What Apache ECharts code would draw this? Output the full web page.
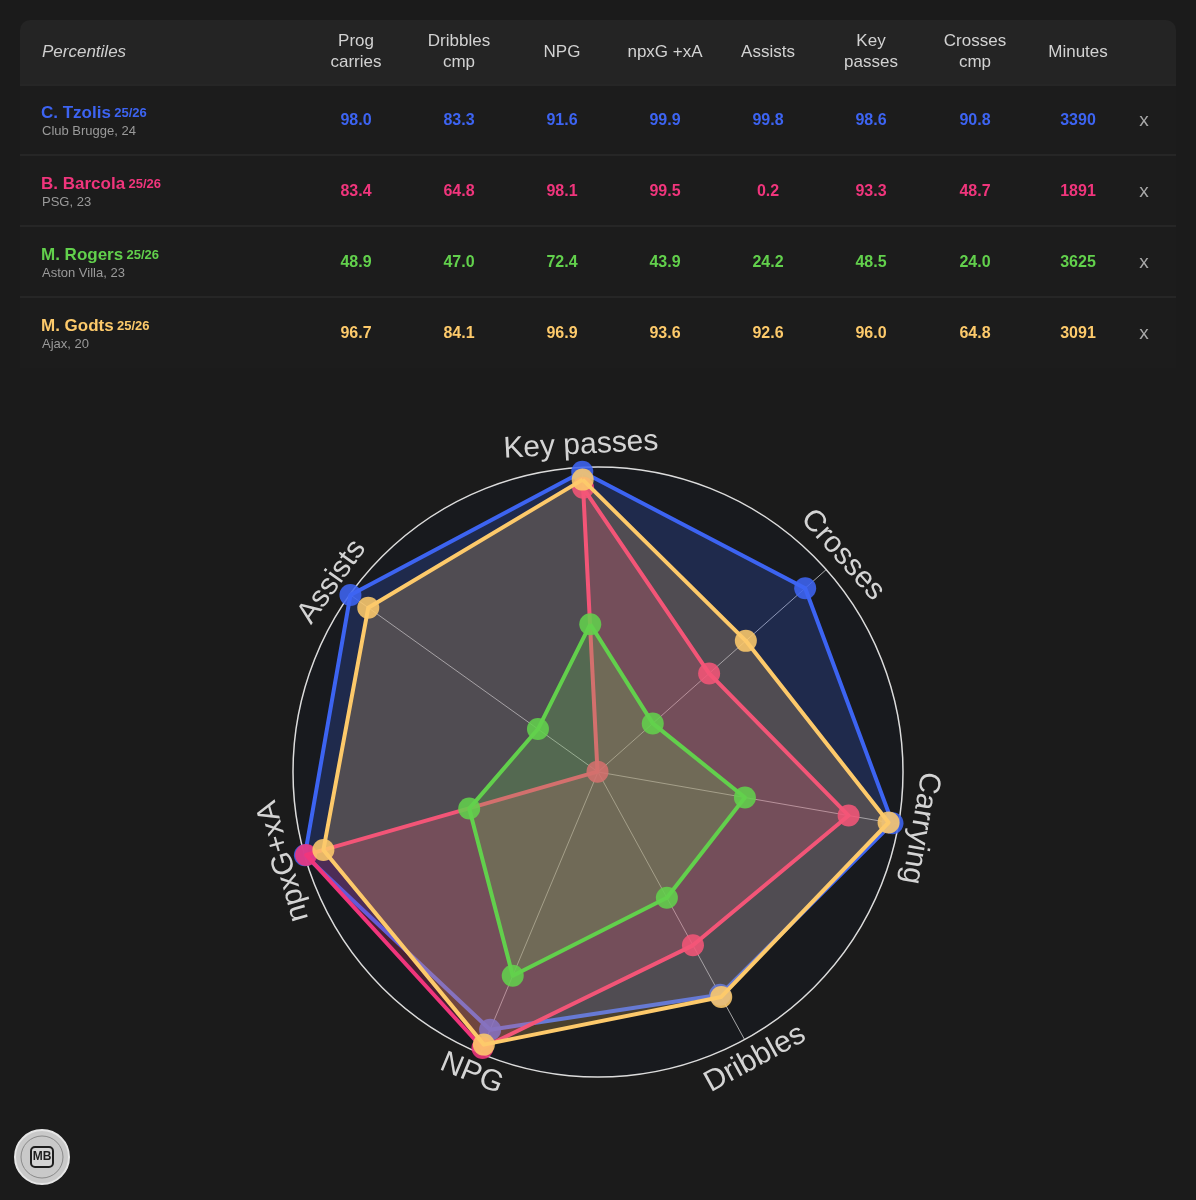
<!DOCTYPE html>
<html>
<head>
<meta charset="utf-8">
<script src="https://cdn.jsdelivr.net/npm/echarts@6/dist/echarts.min.js"></script>
<style>
html,body{margin:0;padding:0;background:#1b1b1b;}
#c{width:1196px;height:1200px;}
</style>
</head>
<body>
<div id="c"></div>
<script>
// ---------- data ----------
const headerLabels = ['Prog\ncarries', 'Dribbles\ncmp', 'NPG', 'npxG +xA', 'Assists', 'Key\npasses', 'Crosses\ncmp', 'Minutes'];
const players = ['C. Tzolis', 'B. Barcola', 'M. Rogers', 'M. Godts'];
const seasons = ['25/26', '25/26', '25/26', '25/26'];
const clubs = ['Club Brugge, 24', 'PSG, 23', 'Aston Villa, 23', 'Ajax, 20'];
const minutes = [3390, 1891, 3625, 3091];
// columns: Prog carries, Dribbles cmp, NPG, npxG+xA, Assists, Key passes, Crosses cmp
const tzolis  = [98.0, 83.3, 91.6, 99.9, 99.8, 98.6, 90.8];
const barcola = [83.4, 64.8, 98.1, 99.5, 0.2, 93.3, 48.7];
const rogers  = [48.9, 47.0, 72.4, 43.9, 24.2, 48.5, 24.0];
const godts   = [96.7, 84.1, 96.9, 93.6, 92.6, 96.0, 64.8];
const playerValues = [tzolis, barcola, rogers, godts];
// radar axes (ECharts order, counter-clockwise from top) and column index they use
const radarNames = ['Key passes', 'Assists', 'npxG+xA', 'NPG', 'Dribbles', 'Carrying', 'Crosses'];
const radarCols = [5, 4, 3, 2, 1, 0, 6];
const colors = ['#3d64f2', '#f0357c', '#62d04c', '#fdca6b'];
const drawOrder = [0, 1, 3, 2];

// ---------- layout ----------
const FONT = 'Helvetica, Arial, "Liberation Sans", sans-serif';
const cx = 598, cy = 772, R = 305, startAngle = 93;
const colX = [356, 459, 562, 665, 768, 871, 975, 1078];
const rowY0 = 121, rowH = 71;

const chart = echarts.init(document.getElementById('c'), null, {renderer: 'canvas'});
const g = [];

// table background
g.push({type: 'rect', shape: {x: 20, y: 20, width: 1156, height: 64, r: [10, 10, 0, 0]}, style: {fill: '#242424'}, z: 1});
g.push({type: 'rect', shape: {x: 20, y: 84, width: 1156, height: 284}, style: {fill: '#1c1c1c'}, z: 1});
[85, 155, 226, 297].forEach(y => {
  g.push({type: 'line', shape: {x1: 20, y1: y, x2: 1176, y2: y}, style: {stroke: '#2a2a2a', lineWidth: 1.5}, z: 2});
});
g.push({type: 'text', x: 42, y: 52, style: {text: 'Percentiles', fill: '#cfcfcf', font: 'italic 17px ' + FONT, align: 'left', verticalAlign: 'middle'}, z: 3});
headerLabels.forEach((h, i) => {
  g.push({type: 'text', x: colX[i], y: 52, style: {text: h, fill: '#d2d2d2', font: '17px ' + FONT, lineHeight: 21, align: 'center', verticalAlign: 'middle'}, z: 3});
});
players.forEach((p, r) => {
  const y = rowY0 + r * rowH;
  g.push({type: 'text', x: 41, y: y - 8, style: {
    text: '{n|' + p + '} {s|' + seasons[r] + '}', align: 'left', verticalAlign: 'middle',
    rich: {n: {fill: colors[r], font: 'bold 17px ' + FONT}, s: {fill: colors[r], font: 'bold 13px ' + FONT}}
  }, z: 3});
  g.push({type: 'text', x: 42, y: y + 10, style: {text: clubs[r], fill: '#9a9a9a', font: '13px ' + FONT, align: 'left', verticalAlign: 'middle'}, z: 3});
  playerValues[r].forEach((v, c) => {
    g.push({type: 'text', x: colX[c], y: y, style: {text: v.toFixed(1), fill: colors[r], font: 'bold 16px ' + FONT, align: 'center', verticalAlign: 'middle'}, z: 3});
  });
  g.push({type: 'text', x: colX[7], y: y, style: {text: String(minutes[r]), fill: colors[r], font: 'bold 16px ' + FONT, align: 'center', verticalAlign: 'middle'}, z: 3});
  g.push({type: 'text', x: 1144, y: y, style: {text: 'x', fill: '#a8a8a8', font: '19px ' + FONT, align: 'center', verticalAlign: 'middle'}, z: 3});
});

// rotated radar axis names
const LR = 327;
radarNames.forEach((name, i) => {
  const th = (startAngle + i * 360 / radarNames.length) * Math.PI / 180;
  let rot = th - Math.PI / 2;
  while (rot > Math.PI) rot -= 2 * Math.PI;
  while (rot < -Math.PI) rot += 2 * Math.PI;
  if (Math.abs(rot) > 130 * Math.PI / 180) rot += rot > 0 ? -Math.PI : Math.PI;
  g.push({type: 'text', x: cx + LR * Math.cos(th), y: cy - LR * Math.sin(th), rotation: rot,
    style: {text: name, fill: '#d4d4d4', font: '30px ' + FONT, align: 'center', verticalAlign: 'middle'}, z: 10});
});

// logo
g.push({type: 'circle', shape: {cx: 42, cy: 1157, r: 27}, style: {fill: '#c9c9c9', stroke: '#e6e6e6', lineWidth: 2}, z: 5});
g.push({type: 'circle', shape: {cx: 42, cy: 1157, r: 21}, style: {fill: 'none', stroke: '#8a8a8a', lineWidth: 1}, z: 5});
g.push({type: 'rect', shape: {x: 31, y: 1147, width: 22, height: 20, r: 4}, style: {fill: '#d4d4d4', stroke: '#1e1e1e', lineWidth: 2}, z: 6});
g.push({type: 'text', x: 42, y: 1157, style: {text: 'MB', fill: '#1e1e1e', font: 'bold 12px ' + FONT, align: 'center', verticalAlign: 'middle'}, z: 7});

const series = drawOrder.map((r, k) => ({
  type: 'radar',
  z: 2 + k,
  symbol: 'circle',
  symbolSize: 22,
  lineStyle: {color: colors[r], width: 4},
  itemStyle: {color: colors[r], opacity: 0.88},
  areaStyle: {color: colors[r], opacity: 0.22},
  data: [{name: players[r], value: radarCols.map(c => playerValues[r][c])}]
}));

chart.setOption({
  backgroundColor: '#1b1b1b',
  animation: false,
  radar: {
    center: [cx, cy],
    radius: R,
    startAngle: startAngle,
    shape: 'circle',
    splitNumber: 1,
    indicator: radarNames.map(n => ({name: n, min: 0, max: 100})),
    axisName: {show: false},
    axisLine: {lineStyle: {color: 'rgba(225,225,225,0.7)', width: 1}},
    axisTick: {show: false},
    splitLine: {lineStyle: {color: '#dcdcdc', width: 1.5}},
    splitArea: {show: true, areaStyle: {color: ['#181a1e']}}
  },
  graphic: g,
  series: series
});
</script>
</body>
</html>
